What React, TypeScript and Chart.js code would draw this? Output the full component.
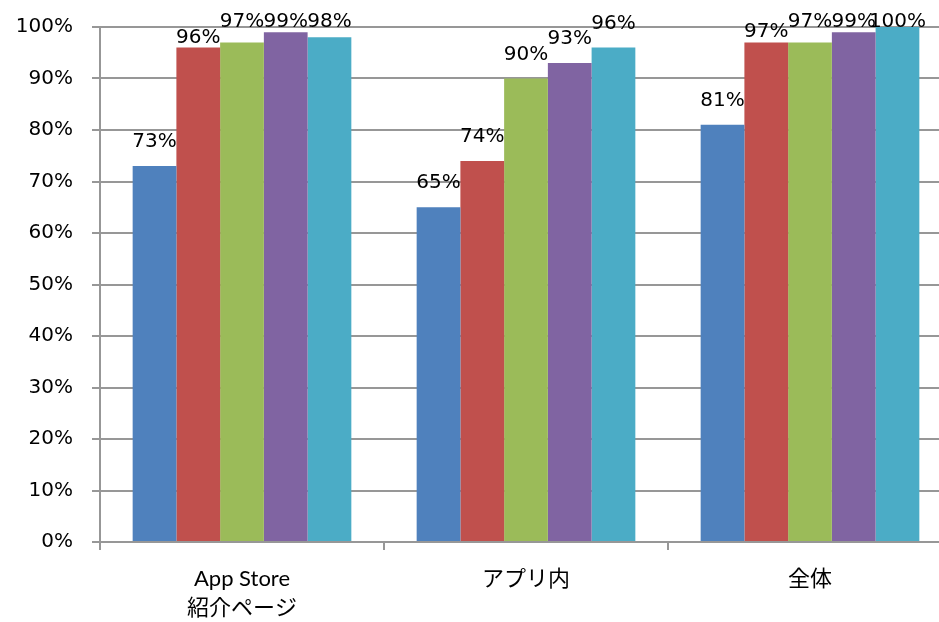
import React, { useEffect, useRef } from "react";
import { Chart, registerables } from "chart.js";

Chart.register(...registerables);

const categories: (string | string[])[] = [["App Store", "紹介ページ"], "アプリ内", "全体"];
const series1 = [73, 65, 81];
const series2 = [96, 74, 97];
const series3 = [97, 90, 97];
const series4 = [99, 93, 99];
const series5 = [98, 96, 100];
const seriesColors = ["#4F81BD", "#C0504D", "#9BBB59", "#8064A2", "#4BACC6"];
const yMin = 0;
const yMax = 100;
const yStep = 10;

const FONT = "'DejaVu Sans', sans-serif";
const XFONT = "Lato, 'Noto Sans CJK JP', sans-serif";
const GRID = "#979797";

const labelPlugin = {
  id: "valueLabels",
  afterDatasetsDraw(chart: any) {
    const ctx = chart.ctx;
    const top = chart.chartArea.top;
    ctx.save();
    ctx.font = `20px ${FONT}`;
    ctx.fillStyle = "#000";
    ctx.textAlign = "center";
    ctx.textBaseline = "alphabetic";
    chart.data.datasets.forEach((ds: any, di: number) => {
      const meta = chart.getDatasetMeta(di);
      meta.data.forEach((bar: any, i: number) => {
        let y = bar.y - 19;
        if (di === 1 && y < top + 5) {
          y = bar.y - 5;
        } else if (y < top) {
          y = top;
        }
        ctx.fillText(`${ds.data[i]}%`, bar.x, y);
      });
    });
    ctx.restore();
  },
};

export default function App() {
  const ref = useRef<HTMLCanvasElement>(null);
  useEffect(() => {
    const data = [series1, series2, series3, series4, series5];
    const chart = new Chart(ref.current!, {
      type: "bar",
      data: {
        labels: categories,
        datasets: data.map((d, i) => ({
          label: `S${i + 1}`,
          data: d,
          backgroundColor: seriesColors[i],
          borderWidth: 0,
          categoryPercentage: 0.77,
          barPercentage: 1.0,
        })),
      },
      options: {
        responsive: false,
        animation: false,
        devicePixelRatio: 1,
        layout: { padding: { top: 27, left: 0, right: 0, bottom: 0 } },
        plugins: {
          legend: { display: false },
          tooltip: { enabled: false },
        },
        scales: {
          x: {
            grid: {
              display: true,
              drawOnChartArea: false,
              drawTicks: true,
              tickLength: 8,
              offset: true,
              color: GRID,
              lineWidth: 2,
            },
            border: { color: GRID, width: 2 },
            ticks: {
              color: "#000",
              padding: 15,
              maxRotation: 0,
              font: { family: XFONT, size: 22, lineHeight: 1.3 },
            },
            afterFit(scale: any) {
              scale.height = 80;
              scale.paddingLeft = 0;
              scale.paddingRight = 0;
            },
          },
          y: {
            min: yMin,
            max: yMax,
            ticks: {
              stepSize: yStep,
              color: "#000",
              padding: 19,
              font: { family: FONT, size: 20 },
              callback: (v: any) => `${v}%`,
            },
            grid: { color: GRID, lineWidth: 2, tickLength: 8 },
            border: { color: GRID, width: 2 },
            afterFit(scale: any) {
              scale.width = 100;
              scale.paddingTop = 0;
              scale.paddingBottom = 0;
            },
          },
        },
      },
      plugins: [labelPlugin],
    });
    return () => chart.destroy();
  }, []);
  return (
    <div style={{ position: "fixed", left: 0, top: 0, right: 0, bottom: 0, overflow: "hidden", background: "#fff" }}>
      <canvas ref={ref} width={952} height={622} style={{ display: "block" }} />
    </div>
  );
}
